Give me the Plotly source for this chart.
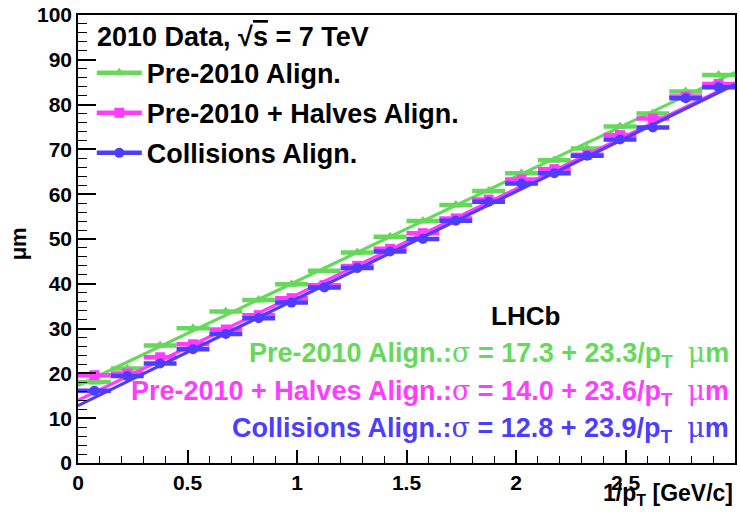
import plotly.graph_objects as go

# ---- data ----
bin_centers = [0.075, 0.225, 0.375, 0.525, 0.675, 0.825, 0.975, 1.125, 1.275, 1.425,
               1.575, 1.725, 1.875, 2.025, 2.175, 2.325, 2.475, 2.625, 2.775, 2.925]
bin_half_width = [0.075] * 20

pre2010 = [18.1, 21.1, 26.2, 30.1, 33.8, 36.4, 39.9, 42.9, 47.0, 50.5,
           54.0, 57.6, 60.7, 64.7, 67.6, 70.2, 75.1, 78.0, 82.9, 86.6]
halves = [19.6, 20.0, 23.6, 26.5, 29.8, 33.0, 36.8, 39.7, 44.0, 47.8,
          51.3, 54.6, 58.8, 63.3, 65.6, 68.8, 73.2, 76.9, 81.8, 84.6]
collisions = [16.1, 19.4, 22.2, 25.4, 28.8, 32.3, 35.8, 39.2, 43.5, 47.2,
              50.0, 54.1, 58.3, 62.4, 64.7, 68.6, 72.2, 74.9, 81.4, 83.9]

series_names = ["Pre-2010 Align.", "Pre-2010 + Halves Align.", "Collisions Align."]
series_values = [pre2010, halves, collisions]
fit_intercepts = [17.3, 14.0, 12.8]
fit_slopes = [23.3, 23.6, 23.9]
fit_range = [0.0, 3.0]

colors = ["#66d95a", "#ff3dff", "#4c3dff"]
symbols = ["triangle-up", "square", "circle"]

FONT = "Liberation Sans, Arial, Helvetica, sans-serif"

fig = go.Figure()

for i, (name, vals) in enumerate(zip(series_names, series_values)):
    col = colors[i]
    fig.add_trace(go.Scatter(
        x=bin_centers, y=vals, mode="markers",
        marker=dict(symbol=symbols[i], size=10, color=col),
        error_x=dict(type="data", array=bin_half_width, symmetric=True,
                     color=col, thickness=4.5, width=0),
        showlegend=False, hoverinfo="x+y"))
    fx = fit_range
    fy = [fit_intercepts[i] + fit_slopes[i] * v for v in fx]
    fig.add_trace(go.Scatter(
        x=fx, y=fy, mode="lines", line=dict(color=col, width=3.2),
        showlegend=False, hoverinfo="skip"))

# legend entries
for i, name in enumerate(series_names):
    fig.add_trace(go.Scatter(
        x=[None], y=[None], mode="lines+markers", name=name,
        legendgroup=f"g{i}",
        line=dict(color=colors[i], width=4.5),
        marker=dict(symbol=symbols[i], size=10, color=colors[i])))

SIG = "<span style='font-family:DejaVu Serif;font-weight:normal'>σ</span>"
MU = "<span style='font-family:DejaVu Serif;font-weight:normal'>μ</span>"

annotations = [
    dict(text="2010 Data, √<span style='text-decoration:overline'>s</span> = 7 TeV",
         x=0.026, y=0.95, xref="paper", yref="paper", xanchor="left", yanchor="middle",
         showarrow=False, font=dict(family=FONT, size=27, color="black", weight="bold")),
    dict(text="LHCb", x=0.681, y=0.328, xref="paper", yref="paper",
         xanchor="center", yanchor="middle", showarrow=False,
         font=dict(family=FONT, size=26, color="black", weight="bold")),
    dict(text="μm", x=-0.09, y=0.49, xref="paper", yref="paper", textangle=-90,
         xanchor="center", yanchor="middle", showarrow=False,
         font=dict(family=FONT, size=22, color="black", weight="bold")),
    dict(text="1/p<sub>T</sub> [GeV/c]", x=1.0, y=-0.108, xref="paper", yref="paper",
         xanchor="right", yanchor="bottom", showarrow=False,
         font=dict(family=FONT, size=23, color="black", weight="bold")),
]
fy_pos = [0.243, 0.158, 0.074]
for i, name in enumerate(series_names):
    txt = (f"{name}:{SIG} = {fit_intercepts[i]:.1f} + {fit_slopes[i]:.1f}/p<sub>T</sub>  "
           f"{MU}m")
    annotations.append(dict(
        text=txt, x=0.994, y=fy_pos[i], xref="paper", yref="paper",
        xanchor="right", yanchor="middle", showarrow=False,
        font=dict(family=FONT, size=27, color=colors[i], weight="bold")))

axis_common = dict(
    showline=True, linecolor="black", linewidth=1.5, mirror=True,
    ticks="inside", tickcolor="black", tickwidth=1.5,
    showgrid=False, zeroline=False,
    tickfont=dict(family=FONT, size=21, color="black", weight="bold"),
)

fig.update_layout(
    width=740, height=514,
    margin=dict(l=78, r=3, t=15, b=51),
    paper_bgcolor="white", plot_bgcolor="white",
    xaxis=dict(range=[0, 3], dtick=0.5, tick0=0, ticklen=13,
               minor=dict(dtick=0.1, ticks="inside", ticklen=7, tickcolor="black", tickwidth=1.2),
               **axis_common),
    yaxis=dict(range=[0, 100], dtick=10, tick0=0, ticklen=18,
               minor=dict(dtick=2, ticks="inside", ticklen=9, tickcolor="black", tickwidth=1.2),
               **axis_common),
    legend=dict(x=0.021, y=0.925, xanchor="left", yanchor="top",
                bgcolor="rgba(0,0,0,0)", borderwidth=0, tracegroupgap=2,
                itemwidth=45,
                font=dict(family=FONT, size=27, color="black", weight="bold")),
    annotations=annotations,
    showlegend=True,
)

fig.write_html("out.html", config={"displayModeBar": False},
               post_script="document.body.style.margin='0';document.body.style.padding='0';")
